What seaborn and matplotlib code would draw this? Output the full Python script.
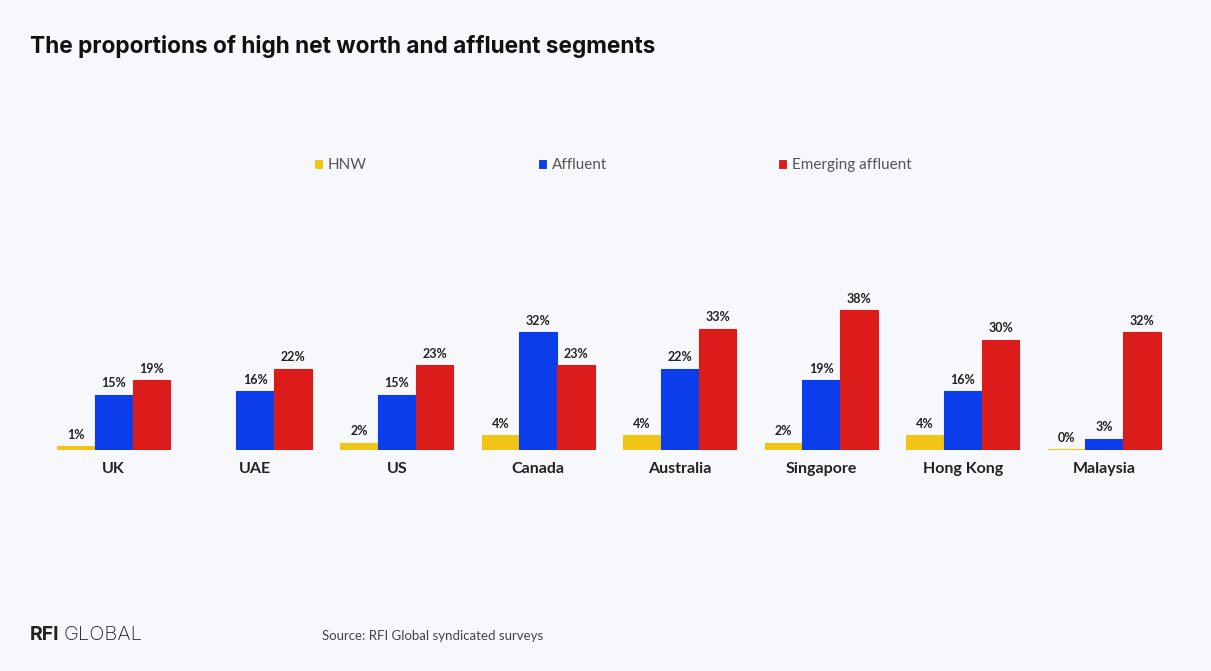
import matplotlib
matplotlib.use("Agg")
import matplotlib.pyplot as plt
import seaborn as sns
import pandas as pd

countries = ["UK", "UAE", "US", "Canada", "Australia", "Singapore", "Hong Kong", "Malaysia"]
segments = ["HNW", "Affluent", "Emerging affluent"]
hnw = [1, None, 2, 4, 4, 2, 4, 0]
affluent = [15, 16, 15, 32, 22, 19, 16, 3]
emerging = [19, 22, 23, 23, 33, 38, 30, 32]
colors = ["#F0C516", "#0B3DEA", "#DC1B1B"]

rows = []
for seg, vals in zip(segments, [hnw, affluent, emerging]):
    for c, v in zip(countries, vals):
        if v is not None:
            rows.append({"country": c, "segment": seg, "share": v})
df = pd.DataFrame(rows)

sns.set_theme(style="white")
plt.rcParams["font.family"] = ["Lato", "DejaVu Sans"]
bg = "#F7F8FC"

fig = plt.figure(figsize=(12.11, 6.71), dpi=100, facecolor=bg)
ax = fig.add_axes([0.0355, 0.3294, 0.9348, 0.2385])
ax.set_facecolor(bg)

sns.barplot(data=df, x="country", y="share", hue="segment", order=countries,
            hue_order=segments, palette=colors, width=0.8, errorbar=None,
            saturation=1, ax=ax, legend=True, linewidth=0.8)
for cont, col in zip(ax.containers, colors):
    for p in cont:
        p.set_edgecolor(col)
        if p.get_height() == 0:
            p.set_linewidth(1.6)
    ax.bar_label(cont, fmt="{:.0f}%", padding=4, fontsize=9, fontweight="bold",
                 color="#222222")

ax.set_xlim(-0.5, 7.5)
ax.set_ylim(0, 43.5)
ax.set_xlabel("")
ax.set_ylabel("")
ax.set_yticks([])
ax.tick_params(axis="x", length=0, pad=9)
for lab in ax.get_xticklabels():
    lab.set_fontsize(11.5)
    lab.set_fontweight("bold")
    lab.set_color("#222222")
sns.despine(ax=ax, left=True, bottom=True)

handles, labels = ax.get_legend_handles_labels()
ax.get_legend().remove()
fig.legend(handles, labels, loc="center", bbox_to_anchor=(0.506, 0.754), ncol=3,
           frameon=False, fontsize=11, handlelength=0.6, handleheight=0.6,
           handletextpad=0.3, columnspacing=11.2, labelcolor="#555555")

fig.text(0.0248, 0.930, "The proportions of high net worth and affluent segments",
         fontsize=16.3, fontweight="bold", color="#111111", va="center",
         family=["Inter", "DejaVu Sans"])
fig.text(0.0248, 0.053, "RFI", fontsize=14, fontweight="bold", color="#222222",
         va="center", family=["Inter", "DejaVu Sans"])
fig.text(0.0525, 0.053, "GLOBAL", fontsize=14.5, fontweight="light", color="#222222",
         va="center", family=["Inter", "DejaVu Sans"])
fig.text(0.266, 0.052, "Source: RFI Global syndicated surveys", fontsize=9.5,
         color="#444444", va="center")

fig.savefig("out.png", dpi=100, facecolor=bg)
